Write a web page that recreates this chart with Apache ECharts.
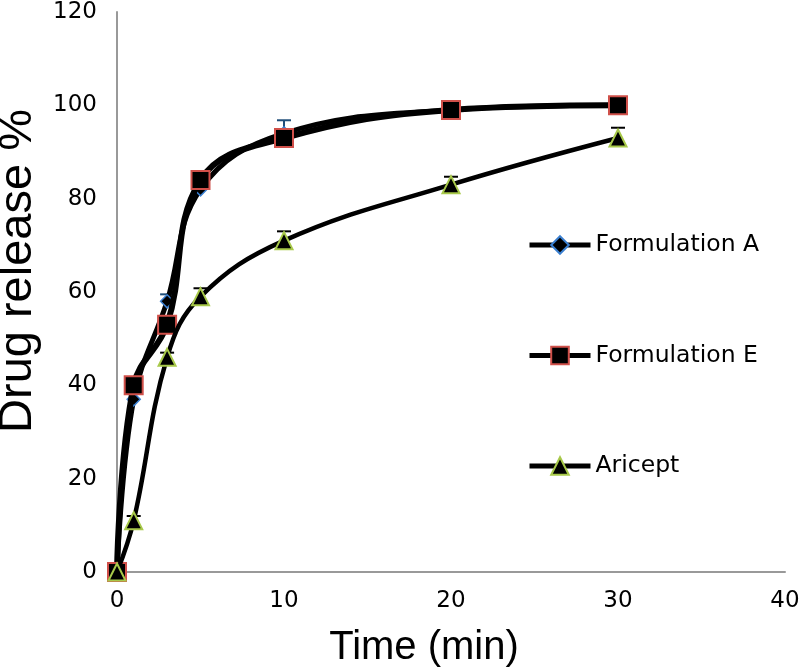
<!DOCTYPE html>
<html>
<head>
<meta charset="utf-8">
<script src="https://cdn.jsdelivr.net/npm/echarts@6/dist/echarts.min.js"></script>
<style>html,body{margin:0;padding:0;background:#fff;}#c{width:799px;height:671px;}</style>
</head>
<body>
<div id="c"></div>
<script>
var times = [0, 1, 3, 5, 10, 20, 30];
var formulationA = [0, 37, 58, 82, 94, 99, 100];
var formulationE = [0, 40, 53, 84, 93, 99, 100];
var aricept = [0, 11, 46, 59, 71, 83, 93];
var errA = [0, 1.5, 1.5, 1.5, 2.8, 1, 1];
var errE = [0, 1, 1, 1, 1.5, 1, 1];
var errAricept = [0, 1, 1, 1.8, 2, 1.7, 2.2];
var xTicks = [0, 10, 20, 30, 40];
var yTicks = [0, 20, 40, 60, 80, 100, 120];

function pairs(xs, ys) { return xs.map(function (x, i) { return [x, ys[i]]; }); }
function errData(xs, ys, es) { return xs.map(function (x, i) { return [x, ys[i], es[i]]; }); }

function errRender(color) {
  return function (params, api) {
    var x = api.value(0), y = api.value(1), e = api.value(2);
    if (!e) return null;
    var top = api.coord([x, y + e]);
    var mid = api.coord([x, y]);
    var cap = 7;
    return {
      type: 'group',
      children: [
        { type: 'line', shape: { x1: top[0], y1: top[1], x2: mid[0], y2: mid[1] }, style: { stroke: color, lineWidth: 2 } },
        { type: 'line', shape: { x1: top[0] - cap, y1: top[1], x2: top[0] + cap, y2: top[1] }, style: { stroke: color, lineWidth: 2 } }
      ]
    };
  };
}

var tickLabel = { fontFamily: 'DejaVu Sans', fontSize: 23, color: '#000', margin: 20 };

var chart = echarts.init(document.getElementById('c'), null, { renderer: 'canvas' });
chart.setOption({
  animation: false,
  backgroundColor: '#fff',
  grid: { left: 117, right: 14, top: 12, bottom: 99, containLabel: false, outerBoundsMode: 'none' },
  legend: {
    orient: 'vertical',
    left: 522,
    top: 228,
    itemWidth: 61,
    itemHeight: 22,
    itemGap: 86.5,
    lineStyle: { width: 5, color: '#000' },
    textStyle: { fontFamily: 'DejaVu Sans', fontSize: 23.5, color: '#000' },
    data: ['Formulation A', 'Formulation E', 'Aricept']
  },
  xAxis: {
    type: 'value', min: xTicks[0], max: xTicks[xTicks.length - 1], interval: 10,
    name: 'Time (min)', nameLocation: 'middle', nameGap: 56,
    nameTextStyle: { fontFamily: 'Liberation Sans', fontSize: 40, color: '#000', padding: [0, 54, 0, 0] },
    axisLine: { show: true, onZero: false, lineStyle: { color: '#999', width: 2 } },
    axisTick: { show: false },
    splitLine: { show: false },
    axisLabel: {
      fontFamily: tickLabel.fontFamily, fontSize: tickLabel.fontSize, color: tickLabel.color, margin: 18,
      showMinLabel: true, showMaxLabel: true, hideOverlap: false,
      formatter: function (v) { return String(v); }
    }
  },
  yAxis: {
    type: 'value', min: yTicks[0], max: yTicks[yTicks.length - 1], interval: 20,
    name: 'Drug release %', nameLocation: 'middle', nameGap: 75,
    nameTextStyle: { fontFamily: 'Liberation Sans', fontSize: 47, color: '#000', padding: [0, 0, 0, 42] },
    axisLine: { show: true, lineStyle: { color: '#999', width: 2 } },
    axisTick: { show: false },
    splitLine: { show: false },
    axisLabel: {
      fontFamily: tickLabel.fontFamily, fontSize: tickLabel.fontSize, color: tickLabel.color, margin: 20,
      showMinLabel: true, showMaxLabel: true, hideOverlap: false,
      formatter: function (v) { return String(v); }
    }
  },
  series: [
    {
      name: 'Formulation A', type: 'line', smooth: 0.4, data: pairs(times, formulationA),
      symbol: 'diamond', symbolSize: 13,
      lineStyle: { color: '#000', width: 5 },
      itemStyle: { color: '#000', borderColor: '#3a7fd0', borderWidth: 1.5 },
      z: 2
    },
    {
      type: 'custom', name: 'errA', renderItem: errRender('#1f4e79'), data: errData(times, formulationA, errA), z: 1, silent: true
    },
    {
      name: 'Formulation E', type: 'line', smooth: 0.4, data: pairs(times, formulationE),
      symbol: 'rect', symbolSize: 18,
      lineStyle: { color: '#000', width: 6 },
      itemStyle: { color: '#000', borderColor: '#d0504a', borderWidth: 2 },
      z: 3
    },
    {
      type: 'custom', name: 'errE', renderItem: errRender('#000'), data: errData(times, formulationE, errE), z: 1, silent: true
    },
    {
      name: 'Aricept', type: 'line', smooth: 0.4, data: pairs(times, aricept),
      symbol: 'triangle', symbolSize: 17,
      lineStyle: { color: '#000', width: 4.5 },
      itemStyle: { color: '#000', borderColor: '#a8c94a', borderWidth: 2 },
      z: 4
    },
    {
      type: 'custom', name: 'errAricept', renderItem: errRender('#000'), data: errData(times, aricept, errAricept), z: 1, silent: true
    }
  ]
});
</script>
</body>
</html>
